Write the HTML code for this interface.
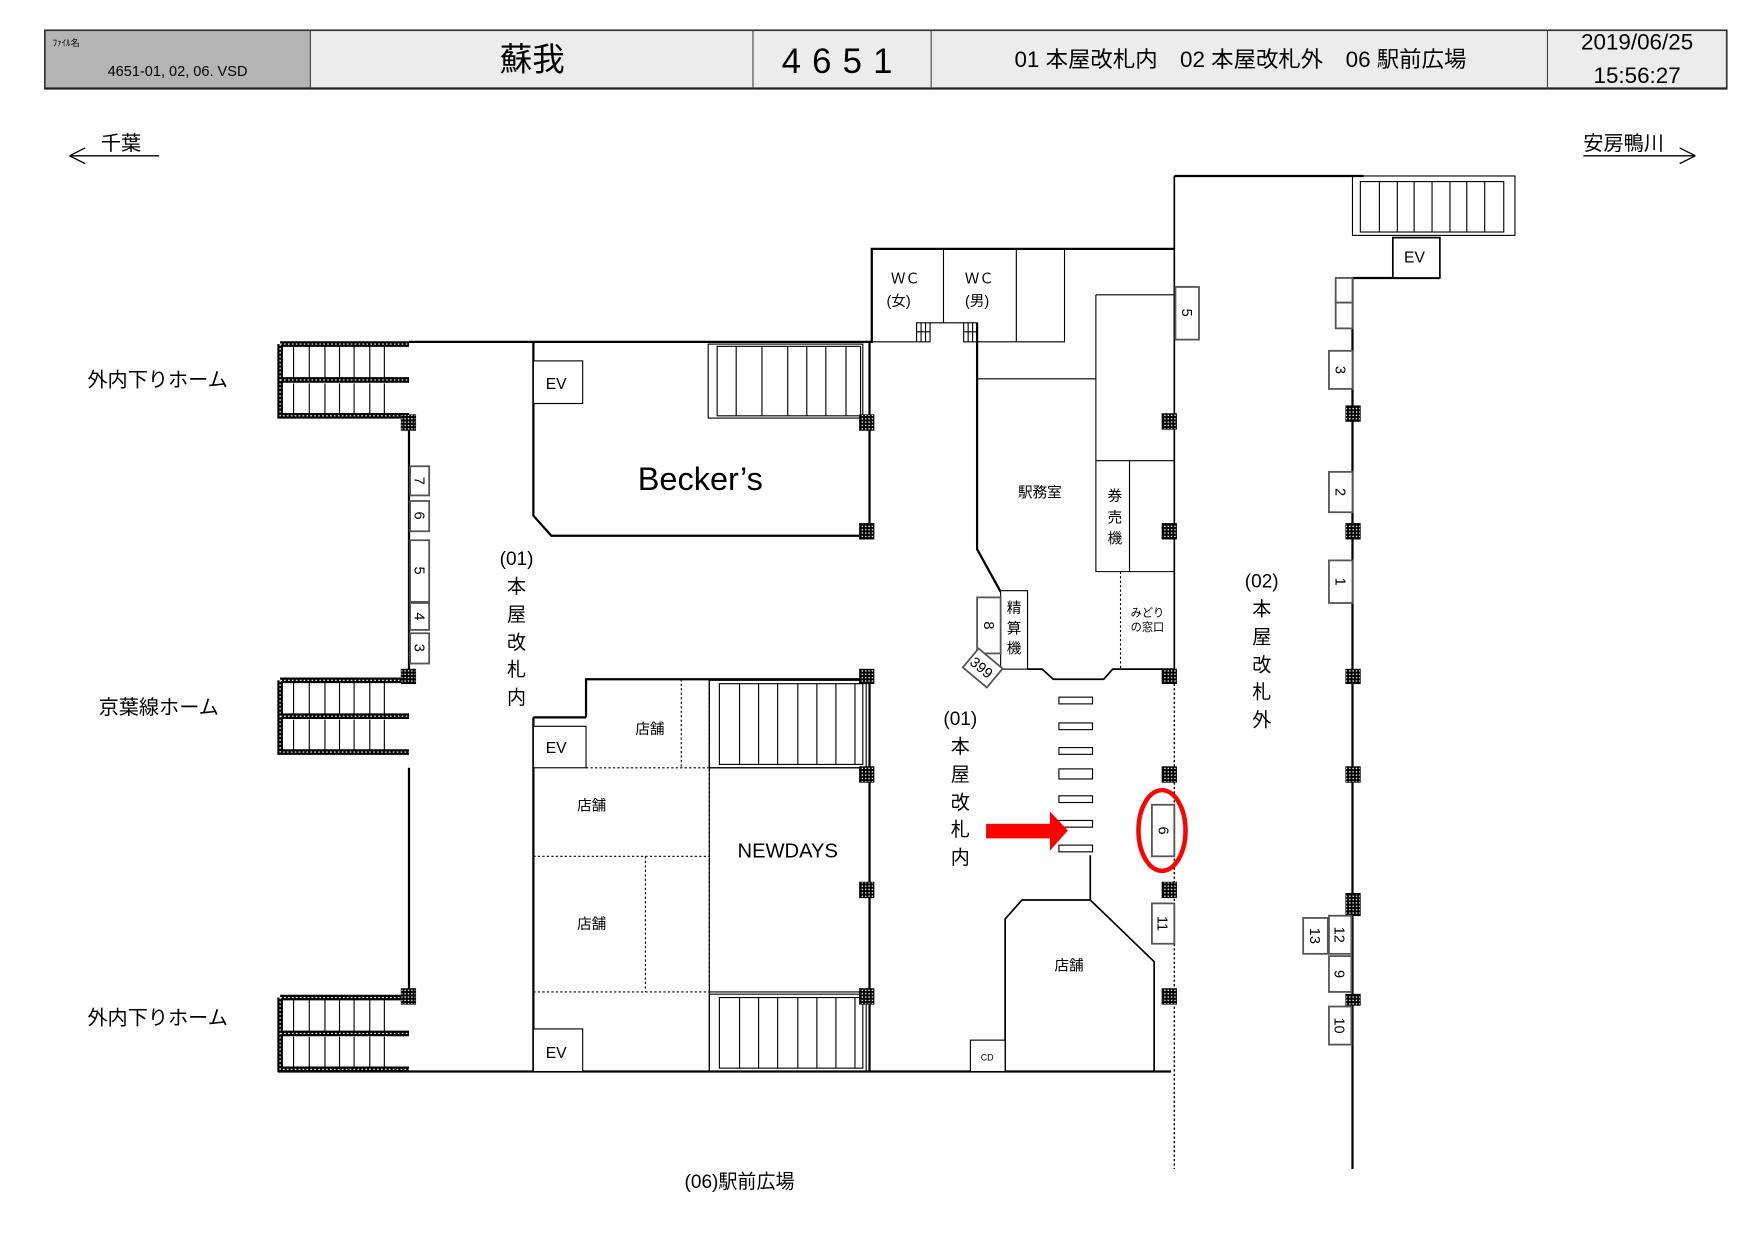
<!DOCTYPE html>
<html><head><meta charset="utf-8"><style>
html,body{margin:0;padding:0;background:#fff;}
svg{display:block;}
text{font-family:"Liberation Sans","Noto Sans CJK JP",sans-serif;fill:#000;}
</style></head><body>
<svg width="1757" height="1243" viewBox="0 0 1568 1109" preserveAspectRatio="none" xmlns="http://www.w3.org/2000/svg">
<defs>
<pattern id="grid" width="3" height="3" patternUnits="userSpaceOnUse"><rect width="3" height="3" fill="#000"/><rect x="1" y="1" width="1.2" height="1.2" fill="#fff"/></pattern>
</defs>
<!-- header -->
<rect x="40" y="27" width="237" height="52" fill="#b4b4b4"/>
<rect x="277" y="27" width="1264" height="52" fill="#ececec"/>
<rect x="40" y="27" width="1501" height="52" fill="none" stroke="#333" stroke-width="1.5"/>
<line x1="40" y1="79" x2="1541" y2="79" stroke="#222" stroke-width="2"/>
<g stroke="#444" stroke-width="1"><line x1="277" y1="27" x2="277" y2="79"/><line x1="672" y1="27" x2="672" y2="79"/><line x1="831" y1="27" x2="831" y2="79"/><line x1="1381" y1="27" x2="1381" y2="79"/></g>
<text x="47" y="41" font-size="8">ﾌｧｲﾙ名</text>
<text x="96" y="68" font-size="13">4651-01, 02, 06. VSD</text>
<text x="475" y="63" font-size="29" text-anchor="middle">蘇我</text>
<text x="752" y="65" font-size="31" text-anchor="middle" letter-spacing="10">4651</text>
<text x="1107" y="60" font-size="20" text-anchor="middle">01 本屋改札内　02 本屋改札外　06 駅前広場</text>
<text x="1461" y="44" font-size="20" text-anchor="middle">2019/06/25</text>
<text x="1461" y="74" font-size="20" text-anchor="middle">15:56:27</text>
<!-- direction -->
<text x="90" y="134" font-size="18">千葉</text>
<path d="M62 139 H142 M62 139 L76 132 M62 139 L76 146" stroke="#000" fill="none" stroke-width="1.2"/>
<text x="1413" y="134" font-size="18">安房鴨川</text>
<path d="M1413 139 H1513 M1513 139 L1499 132 M1513 139 L1499 146" stroke="#000" fill="none" stroke-width="1.2"/>
<!-- platform labels -->
<text x="78" y="345" font-size="18">外内下りホーム</text>
<text x="88" y="637" font-size="18">京葉線ホーム</text>
<text x="78" y="914" font-size="18">外内下りホーム</text>

<g fill="none" stroke="#000" stroke-width="2">
<path d="M365 305 H778 V222 H1048"/>
<path d="M1048 157 H1217"/>
<path d="M1048 157 V1043" stroke-width="1.5"/>
<path d="M365 372 V605 M365 685 V890"/>
<path d="M248 956 H1048"/>
<path d="M476 305 V460 L492 478 H776 V305"/>
<path d="M523 640 V606 H776 V956 M476 640 H523 M476 640 V956"/>
<path d="M1207 248 H1285 M1207 248 V1043"/>
<path d="M872 288 V490 L893 528"/>
<path d="M917 597 H930 L940 606 H985 L993 597 H1048" stroke-width="1.5"/>
<path d="M973 763 V803 H912 L897 820 V956 M973 803 L1030 858 V956" stroke-width="1.5"/>
</g>
<rect x="1045" y="598" width="6" height="446" fill="#fff"/>
<line x1="1048" y1="598" x2="1048" y2="1043" stroke="#000" stroke-width="1.3" stroke-dasharray="2,2"/>

<g fill="none" stroke="#000" stroke-width="1">
<line x1="842" y1="222" x2="842" y2="288"/><line x1="907" y1="222" x2="907" y2="305"/>
<path d="M907 305 H950 V222"/>
<path d="M778 305 H818 M872 305 H907 M830 288 H860"/>
<path d="M872 338 H978 M978 263 H1048 M978 263 V510 H1048 M978 411 H1048 M1008 411 V510"/>
<line x1="1000" y1="510" x2="1000" y2="597" stroke-dasharray="2,2"/>
<g stroke-dasharray="2,2"><line x1="608" y1="606" x2="608" y2="685"/><line x1="633" y1="606" x2="633" y2="885"/><line x1="523" y1="685" x2="633" y2="685"/><line x1="476" y1="764" x2="633" y2="764"/><line x1="576" y1="764" x2="576" y2="885"/><line x1="476" y1="885" x2="633" y2="885"/></g>
<path d="M633 685 H776 M633 606 V956 M633 885 H776"/>
<rect x="476" y="322" width="44" height="38" fill="#fff"/>
<rect x="476" y="648" width="47" height="37" fill="#fff"/>
<rect x="476" y="918" width="44" height="38" fill="#fff"/>
<rect x="1243" y="212" width="42" height="36" fill="#fff" stroke-width="1.5"/>
<rect x="866" y="928" width="31" height="28" fill="#fff"/>
<rect x="893" y="527" width="24" height="70" fill="#fff"/>
</g>
<g fill="none" stroke="#000" stroke-width="1">
<rect x="632" y="307" width="138" height="66"/><rect x="640" y="309" width="128" height="62"/>
<path d="M680 309V371M703 309V371M720 309V371M737 309V371M755 309V371M657 309V371"/>
<rect x="633" y="607" width="140" height="78"/><rect x="642" y="610" width="128" height="72"/>
<path d="M660 610V682M677 610V682M694 610V682M712 610V682M729 610V682M746 610V682M763 610V682"/>
<rect x="633" y="887" width="140" height="69"/><rect x="642" y="890" width="128" height="63"/>
<path d="M660 890V953M677 890V953M694 890V953M712 890V953M729 890V953M746 890V953M763 890V953"/>
<rect x="1207" y="157" width="145" height="53"/><rect x="1214" y="162" width="128" height="45"/>
<path d="M1231 162V207M1247 162V207M1262 162V207M1278 162V207M1294 162V207M1309 162V207M1325 162V207"/>
<rect x="818" y="288" width="12" height="17"/><path d="M822 288V305M826 288V305M818 296H830"/>
<rect x="860" y="288" width="12" height="17"/><path d="M864 288V305M868 288V305M860 296H872"/>
</g>
<g>
<g id="ps">
<rect x="248" y="305" width="117" height="68" fill="#fff"/>
<path d="M250 307 H365 M250 307 V371 H365 M250 339 H365" stroke="#000" stroke-width="5" fill="none"/>
<path d="M250 307 H365 M250 307 V371 H365 M250 339 H365" stroke="#fff" stroke-width="1" stroke-dasharray="1.5,2" fill="none"/>
<path d="M262 309V337M276 309V337M290 309V337M303 309V337M316 309V337M330 309V337M343 309V337M262 342V369M276 342V369M290 342V369M303 342V369M316 342V369M330 342V369M343 342V369" stroke="#000" stroke-width="1"/>
</g>
<use href="#ps" y="300"/>
<use href="#ps" y="583"/>
</g>
<g fill="url(#grid)" stroke="#000" stroke-width="0.6">
<rect x="358" y="370" width="13" height="14"/><rect x="358" y="597" width="13" height="13"/><rect x="358" y="882" width="13" height="14"/>
<rect x="767" y="370" width="13" height="14"/><rect x="767" y="467" width="13" height="14"/><rect x="767" y="597" width="13" height="13"/><rect x="767" y="684" width="13" height="14"/><rect x="767" y="787" width="13" height="14"/><rect x="767" y="882" width="13" height="14"/>
<rect x="1037" y="369" width="13" height="14"/><rect x="1037" y="467" width="13" height="14"/><rect x="1037" y="597" width="13" height="13"/><rect x="1037" y="684" width="13" height="14"/><rect x="1037" y="787" width="13" height="14"/><rect x="1037" y="882" width="13" height="14"/>
<rect x="1201" y="362" width="13" height="14"/><rect x="1201" y="467" width="13" height="14"/><rect x="1201" y="597" width="13" height="13"/><rect x="1201" y="684" width="13" height="14"/><rect x="1201" y="797" width="13" height="20"/><rect x="1201" y="887" width="13" height="10"/>
</g>
<g fill="#fff" stroke="#555" stroke-width="1.6">
<rect x="366" y="416" width="17" height="26"/><rect x="366" y="447" width="17" height="27"/><rect x="366" y="482" width="17" height="55"/><rect x="366" y="538" width="17" height="24"/><rect x="366" y="565" width="17" height="27"/>
<rect x="1049" y="256" width="21" height="47"/>
<rect x="1192" y="248" width="15" height="22"/><rect x="1192" y="270" width="15" height="23"/>
<rect x="1186" y="313" width="21" height="34"/><rect x="1186" y="421" width="21" height="36"/><rect x="1186" y="500" width="21" height="38"/>
<rect x="872" y="533" width="21" height="50"/>
<rect x="1028" y="718" width="20" height="46"/><rect x="1028" y="806" width="20" height="36"/>
<rect x="1163" y="819" width="22" height="32"/><rect x="1186" y="817" width="20" height="34"/><rect x="1186" y="853" width="20" height="32"/><rect x="1186" y="898" width="20" height="34"/>
<rect x="863" y="585" width="28" height="22" transform="rotate(40 877 596)"/>
</g>
<g fill="#fff" stroke="#000" stroke-width="1">
<rect x="945" y="622" width="30" height="6"/><rect x="945" y="645" width="30" height="6"/><rect x="945" y="667" width="30" height="6"/><rect x="945" y="686" width="30" height="9"/><rect x="945" y="710" width="30" height="6"/><rect x="945" y="732" width="30" height="6"/><rect x="945" y="754" width="30" height="6"/>
</g>
<rect x="880" y="735" width="58" height="13" fill="#f00"/>
<polygon points="937,724 953,741 937,759" fill="#f00"/>
<ellipse cx="1037" cy="741" rx="21" ry="36" fill="none" stroke="#f00" stroke-width="4"/>
<g font-size="13" text-anchor="middle">
<text transform="translate(370,429) rotate(90)">7</text><text transform="translate(370,460) rotate(90)">6</text><text transform="translate(370,509) rotate(90)">5</text><text transform="translate(370,550) rotate(90)">4</text><text transform="translate(370,578) rotate(90)">3</text>
<text transform="translate(1055,279) rotate(90)">5</text>
<text transform="translate(1192,330) rotate(90)">3</text><text transform="translate(1192,439) rotate(90)">2</text><text transform="translate(1192,519) rotate(90)">1</text>
<text transform="translate(878,558) rotate(90)">8</text>
<text transform="translate(1034,741) rotate(90)">6</text><text transform="translate(1033,824) rotate(90)">11</text>
<text transform="translate(1169,835) rotate(90)">13</text><text transform="translate(1191,834) rotate(90)">12</text><text transform="translate(1191,869) rotate(90)">9</text><text transform="translate(1191,915) rotate(90)">10</text>
<text transform="translate(873,599) rotate(40)">399</text>
</g>
<g font-size="14"><text x="487" y="347">EV</text><text x="487" y="672">EV</text><text x="487" y="944">EV</text><text x="1253" y="234">EV</text></g>
<text x="625" y="437" font-size="29" text-anchor="middle">Becker’s</text>
<text x="703" y="765" font-size="18" text-anchor="middle">NEWDAYS</text>
<g font-size="13" text-anchor="middle"><text x="580" y="655">店舗</text><text x="528" y="723">店舗</text><text x="528" y="829">店舗</text><text x="954" y="866">店舗</text><text x="928" y="444">駅務室</text></g>
<g font-size="13" text-anchor="middle"><text x="808" y="253">ＷＣ</text><text x="802" y="273">(女)</text><text x="874" y="253">ＷＣ</text><text x="872" y="273">(男)</text></g>
<g font-size="13" text-anchor="middle"><text x="995" y="447">券</text><text x="995" y="466">売</text><text x="995" y="485">機</text><text x="905" y="547">精</text><text x="905" y="565">算</text><text x="905" y="583">機</text></g>
<g font-size="10" text-anchor="middle"><text x="1024" y="550">みどり</text><text x="1024" y="563">の窓口</text><text x="881" y="946" font-size="8">CD</text></g>
<g font-size="17" text-anchor="middle">
<text x="461" y="504">(01)</text><text x="461" y="529">本</text><text x="461" y="554">屋</text><text x="461" y="579">改</text><text x="461" y="603">札</text><text x="461" y="628">内</text>
<text x="857" y="647">(01)</text><text x="857" y="672">本</text><text x="857" y="697">屋</text><text x="857" y="722">改</text><text x="857" y="746">札</text><text x="857" y="771">内</text>
<text x="1126" y="524">(02)</text><text x="1126" y="549">本</text><text x="1126" y="574">屋</text><text x="1126" y="599">改</text><text x="1126" y="623">札</text><text x="1126" y="648">外</text>
</g>
<text x="660" y="1060" font-size="17" text-anchor="middle">(06)駅前広場</text>
</svg>
</body></html>
